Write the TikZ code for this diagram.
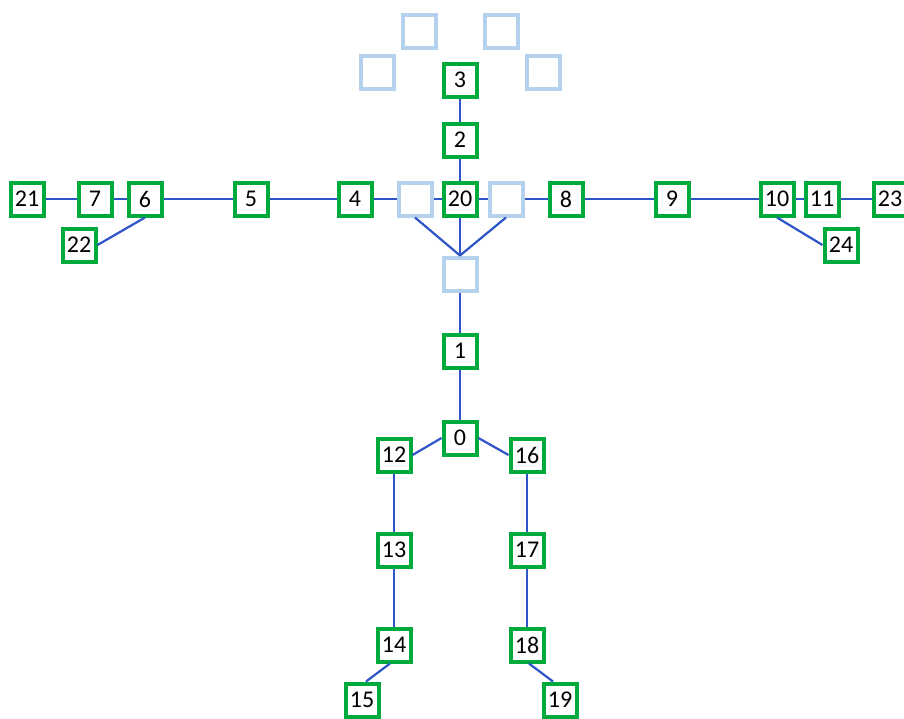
\documentclass[tikz,border=0pt]{standalone}
\usepackage{fontspec}
\setmainfont{Carlito}
\definecolor{jgreen}{RGB}{0,170,60}
\definecolor{jblue}{RGB}{45,85,200}
\definecolor{jlight}{RGB}{180,210,238}
\tikzset{
  joint/.style={draw=jgreen, line width=4pt, fill=white, minimum size=33pt, inner sep=0pt, font=\fontsize{24}{24}\selectfont},
  ghost/.style={draw=jlight, line width=4pt, fill=white, minimum size=33pt, inner sep=0pt},
  bone/.style={draw=jblue, line width=2.2pt}
}
\begin{document}
\begin{tikzpicture}[x=1pt,y=-1pt]
\useasboundingbox (0,0) rectangle (904,718);
\clip (0,0) rectangle (904,718);
% ghost head boxes
\node[ghost] (ha) at (419,31) {};
\node[ghost] (hb) at (501,31) {};
\node[ghost] (hc) at (377,72) {};
\node[ghost] (hd) at (543,72) {};
% joints
\node[joint] (n3) at (460,80) {3};
\node[joint] (n2) at (460,140) {2};
\node[joint] (n20) at (460,199) {20};
\node[ghost] (bl) at (415,199) {};
\node[ghost] (br) at (506,199) {};
\node[ghost] (bb) at (460,274) {};
\node[joint] (n4) at (355,199) {4};
\node[joint] (n5) at (251,199) {5};
\node[joint] (n6) at (145,199) {6};
\node[joint] (n7) at (95,199) {7};
\node[joint] (n21) at (27,199) {21};
\node[joint] (n22) at (79,245) {22};
\node[joint] (n8) at (566,199) {8};
\node[joint] (n9) at (672,199) {9};
\node[joint] (n10) at (777,199) {10};
\node[joint] (n11) at (822,199) {11};
\node[joint] (n23) at (890,199) {23};
\node[joint] (n24) at (841,245) {24};
\node[joint] (n1) at (460,351) {1};
\node[joint] (n0) at (460,438) {0};
\node[joint] (n12) at (394,455) {12};
\node[joint] (n16) at (527,455) {16};
\node[joint] (n13) at (394,550) {13};
\node[joint] (n17) at (527,550) {17};
\node[joint] (n14) at (394,645) {14};
\node[joint] (n18) at (527,645) {18};
\node[joint] (n15) at (362,700) {15};
\node[joint] (n19) at (560,700) {19};
% bones
\draw[bone] (n3) -- (n2);
\draw[bone] (n2) -- (n20);
\draw[bone] (n20) -- (bb.north);
\draw[bone] (bl.south) -- (bb.north);
\draw[bone] (br.south) -- (bb.north);
\draw[bone] (n4) -- (bl);
\draw[bone] (bl) -- (n20);
\draw[bone] (n20) -- (br);
\draw[bone] (br) -- (n8);
\draw[bone] (n4) -- (n5);
\draw[bone] (n5) -- (n6);
\draw[bone] (n6) -- (n7);
\draw[bone] (n7) -- (n21);
\draw[bone] (n6.south) -- (n22.east);
\draw[bone] (n8) -- (n9);
\draw[bone] (n9) -- (n10);
\draw[bone] (n10) -- (n11);
\draw[bone] (n11) -- (n23);
\draw[bone] (n10.south) -- (n24.west);
\draw[bone] (bb) -- (n1);
\draw[bone] (n1) -- (n0);
\draw[bone] (n0.west) -- (n12.east);
\draw[bone] (n0.east) -- (n16.west);
\draw[bone] (n12) -- (n13);
\draw[bone] (n13) -- (n14);
\draw[bone] (n16) -- (n17);
\draw[bone] (n17) -- (n18);
\draw[bone] ([xshift=-4pt]n14.south) -- ([xshift=4pt]n15.north);
\draw[bone] ([xshift=2pt]n18.south) -- ([xshift=-7pt]n19.north);
\end{tikzpicture}
\end{document}
